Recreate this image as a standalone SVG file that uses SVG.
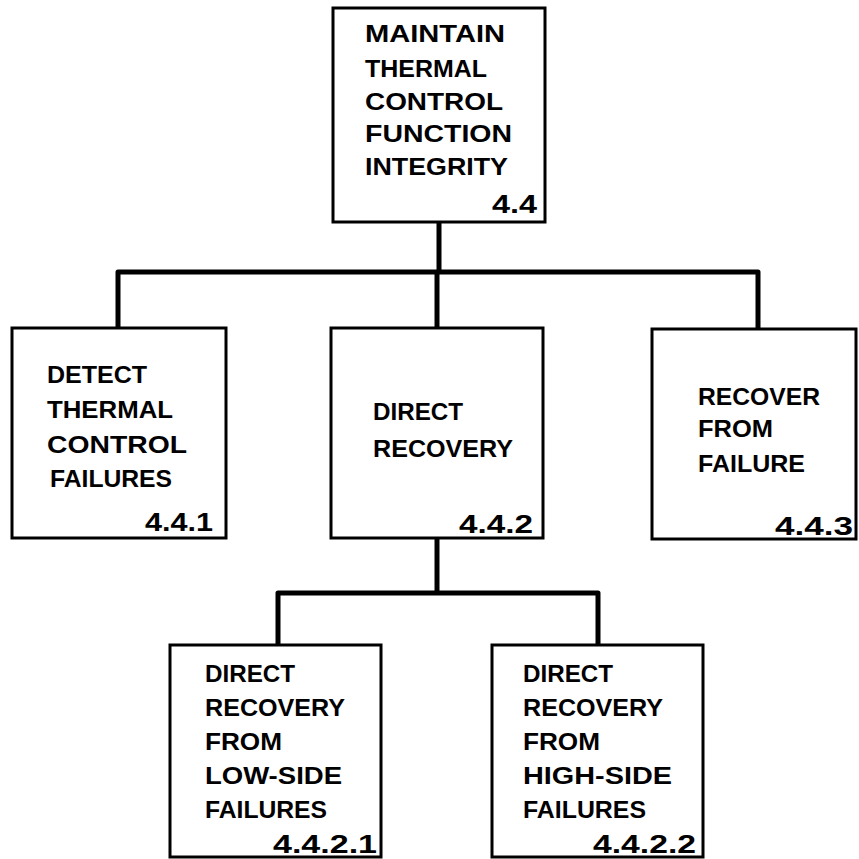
<svg xmlns="http://www.w3.org/2000/svg" width="859" height="859" viewBox="0 0 859 859">
<style>
.box{fill:#fff;stroke:#000;stroke-width:3}
.conn{fill:none;stroke:#000;stroke-width:5;stroke-linejoin:round;stroke-linecap:butt}
.t{font-family:"Liberation Sans","DejaVu Sans",Arial,sans-serif;font-weight:bold;font-size:24px;fill:#000}
.n{font-family:"Liberation Sans","DejaVu Sans",Arial,sans-serif;font-weight:bold;font-size:26px;fill:#000}
</style>
<rect width="859" height="859" fill="#fff"/>
<g id="connectors">
<path class="conn" d="M439,222 V272"/>
<path class="conn" d="M118,328 V272 H758 V329"/>
<path class="conn" d="M437,272 V328"/>
<path class="conn" d="M437,538 V593"/>
<path class="conn" d="M278,645 V593 H598 V645"/>
</g>
<g id="n4.4">
<rect class="box" x="333" y="8" width="212" height="214"/>
<text class="t" x="365" y="42" textLength="140" lengthAdjust="spacingAndGlyphs">MAINTAIN</text>
<text class="t" x="365" y="77" textLength="122" lengthAdjust="spacingAndGlyphs">THERMAL</text>
<text class="t" x="365" y="110" textLength="138" lengthAdjust="spacingAndGlyphs">CONTROL</text>
<text class="t" x="365" y="142" textLength="147" lengthAdjust="spacingAndGlyphs">FUNCTION</text>
<text class="t" x="365" y="175" textLength="143" lengthAdjust="spacingAndGlyphs">INTEGRITY</text>
<text class="n" x="492" y="213" textLength="45" lengthAdjust="spacingAndGlyphs">4.4</text>
</g>
<g id="n4.4.1">
<rect class="box" x="12" y="328" width="214" height="210"/>
<text class="t" x="47" y="383" textLength="100" lengthAdjust="spacingAndGlyphs">DETECT</text>
<text class="t" x="47" y="418" textLength="126" lengthAdjust="spacingAndGlyphs">THERMAL</text>
<text class="t" x="47" y="453" textLength="140" lengthAdjust="spacingAndGlyphs">CONTROL</text>
<text class="t" x="50" y="487" textLength="122" lengthAdjust="spacingAndGlyphs">FAILURES</text>
<text class="n" x="145" y="531" textLength="68" lengthAdjust="spacingAndGlyphs">4.4.1</text>
</g>
<g id="n4.4.2">
<rect class="box" x="331" y="328" width="212" height="210"/>
<text class="t" x="373" y="420" textLength="90" lengthAdjust="spacingAndGlyphs">DIRECT</text>
<text class="t" x="373" y="457" textLength="140" lengthAdjust="spacingAndGlyphs">RECOVERY</text>
<text class="n" x="459" y="533" textLength="74" lengthAdjust="spacingAndGlyphs">4.4.2</text>
</g>
<g id="n4.4.3">
<rect class="box" x="652" y="329" width="204" height="210"/>
<text class="t" x="698" y="405" textLength="122" lengthAdjust="spacingAndGlyphs">RECOVER</text>
<text class="t" x="698" y="437" textLength="75" lengthAdjust="spacingAndGlyphs">FROM</text>
<text class="t" x="698" y="472" textLength="107" lengthAdjust="spacingAndGlyphs">FAILURE</text>
<text class="n" x="775" y="535" textLength="78" lengthAdjust="spacingAndGlyphs">4.4.3</text>
</g>
<g id="n4.4.2.1">
<rect class="box" x="170" y="645" width="211" height="212"/>
<text class="t" x="205" y="682" textLength="90" lengthAdjust="spacingAndGlyphs">DIRECT</text>
<text class="t" x="205" y="716" textLength="140" lengthAdjust="spacingAndGlyphs">RECOVERY</text>
<text class="t" x="205" y="750" textLength="77" lengthAdjust="spacingAndGlyphs">FROM</text>
<text class="t" x="205" y="784" textLength="137" lengthAdjust="spacingAndGlyphs">LOW-SIDE</text>
<text class="t" x="205" y="818" textLength="122" lengthAdjust="spacingAndGlyphs">FAILURES</text>
<text class="n" x="273" y="853" textLength="104" lengthAdjust="spacingAndGlyphs">4.4.2.1</text>
</g>
<g id="n4.4.2.2">
<rect class="box" x="492" y="645" width="211" height="212"/>
<text class="t" x="523" y="682" textLength="90" lengthAdjust="spacingAndGlyphs">DIRECT</text>
<text class="t" x="523" y="716" textLength="140" lengthAdjust="spacingAndGlyphs">RECOVERY</text>
<text class="t" x="523" y="750" textLength="77" lengthAdjust="spacingAndGlyphs">FROM</text>
<text class="t" x="523" y="784" textLength="149" lengthAdjust="spacingAndGlyphs">HIGH-SIDE</text>
<text class="t" x="523" y="818" textLength="123" lengthAdjust="spacingAndGlyphs">FAILURES</text>
<text class="n" x="593" y="853" textLength="103" lengthAdjust="spacingAndGlyphs">4.4.2.2</text>
</g>
</svg>
